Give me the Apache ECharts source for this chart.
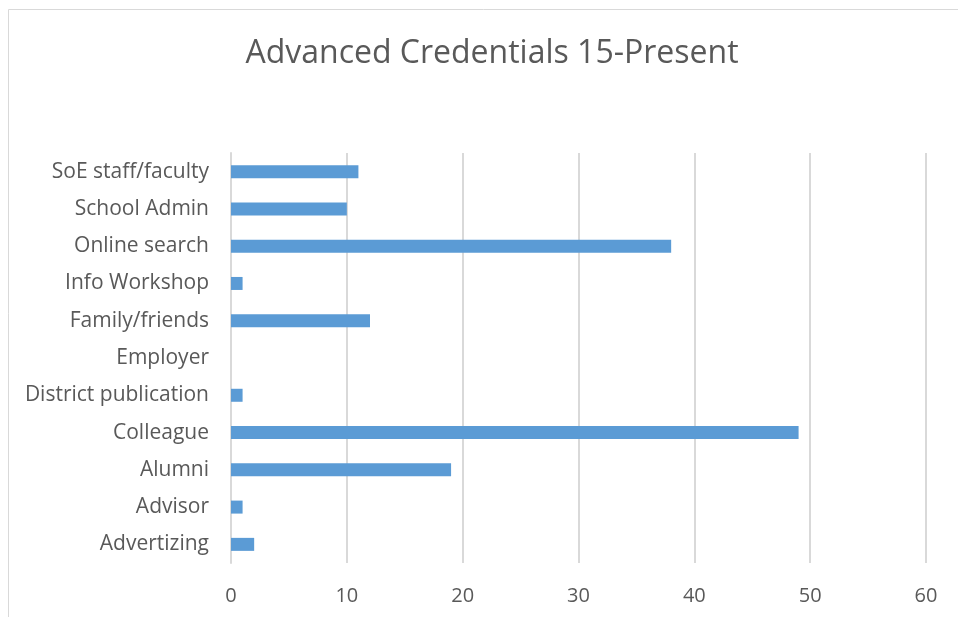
<!DOCTYPE html>
<html><head><meta charset="utf-8">
<script src="https://cdn.jsdelivr.net/npm/echarts@6/dist/echarts.min.js"></script>
<style>html,body{margin:0;padding:0;background:#fff}#c{width:958px;height:617px}</style>
</head><body><div id="c"></div>
<script>
const categories = ["Advertizing","Advisor","Alumni","Colleague","District publication","Employer","Family/friends","Info Workshop","Online search","School Admin","SoE staff/faculty"];
const values = [2,1,19,49,1,0,12,1,38,10,11];
const xTicks = [0,10,20,30,40,50,60];
const titleText = "Advanced Credentials 15-Present";
const chart = echarts.init(document.getElementById('c'));
chart.setOption({
  animation:false,
  textStyle:{fontFamily:"Open Sans"},
  graphic:[{type:'rect',shape:{x:8.5,y:9.5,width:1000,height:700},style:{fill:'none',stroke:'#d9d9d9',lineWidth:1}}],
  title:{text:titleText,left:487,top:33,textAlign:'center',textStyle:{fontSize:32,fontWeight:'normal',color:'#595959',fontFamily:'Open Sans'}},
  grid:{left:231,right:32,top:153,bottom:54,containLabel:false},
  xAxis:{type:'value',min:xTicks[0],max:xTicks[xTicks.length-1],interval:10,
    axisLine:{show:false},axisTick:{show:false},
    axisLabel:{color:'#595959',fontSize:20,margin:23},
    splitLine:{lineStyle:{color:'#d9d9d9',width:2}}},
  yAxis:{type:'category',data:categories,
    axisLine:{show:true,lineStyle:{color:'#d9d9d9',width:2}},axisTick:{show:false},
    axisLabel:{color:'#595959',fontSize:21,margin:22}},
  series:[{type:'bar',data:values,barWidth:13,itemStyle:{color:'#5b9bd5'}}]
});
</script></body></html>
